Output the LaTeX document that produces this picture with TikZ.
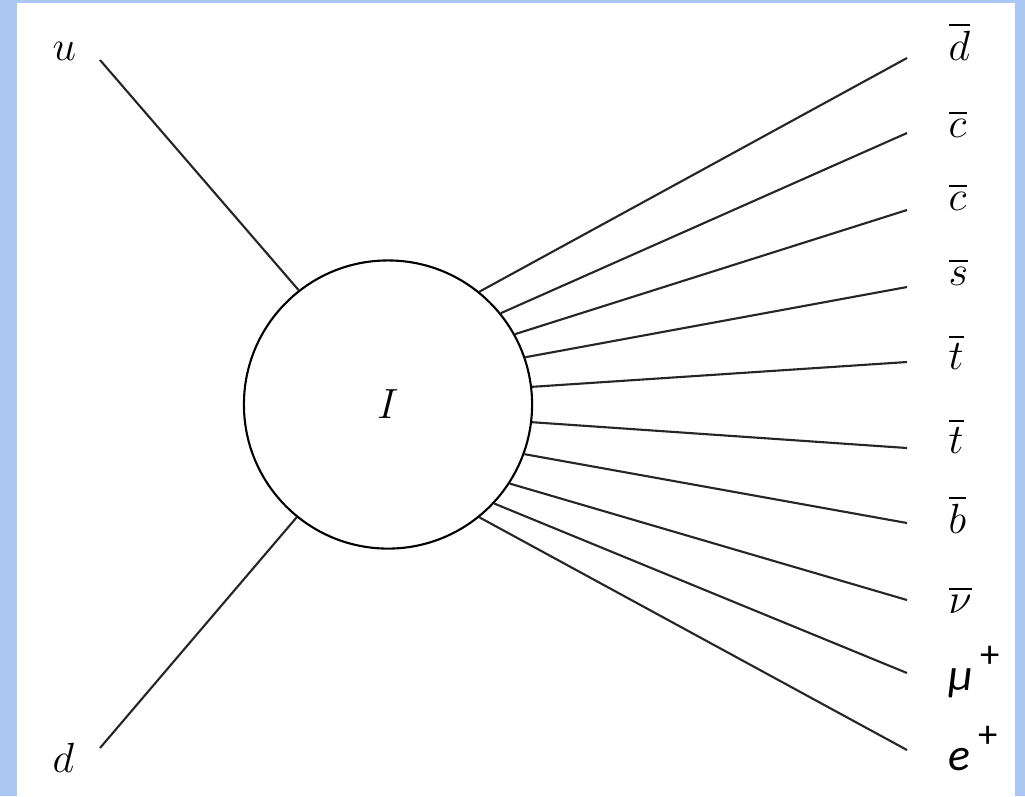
\documentclass[tikz,border=0pt]{standalone}
\usepackage{amsmath}
\usepackage{fontspec}
\usepackage{tikz}
\usetikzlibrary{positioning}
\newfontfamily\calibrifont{Carlito}[ItalicFont={Carlito Italic}]
\newcommand{\plussup}{\raisebox{0.5em}{\upshape\fontsize{11}{12}\selectfont +}}
\definecolor{frameblue}{RGB}{171,200,245}

\begin{document}
\begin{tikzpicture}[
    x=0.01cm, y=-0.01cm,
    blob/.style={draw, circle, line width=0.6pt, minimum size=2.88cm, inner sep=0pt, font=\large},
    leg/.style={line width=0.6pt, black!85},
    lab/.style={anchor=base west, inner sep=0pt, font=\large},
]
    % frame
    \fill[frameblue] (0,0) rectangle (1025,796);
    \fill[white] (17,3) rectangle (1015,796);
    \useasboundingbox (0,0) rectangle (1025,796);

    \node[blob] (I) at (388,404.5) {$I$};

    \node[lab] (u) at (52,60) {$u$};
    \node[lab] (d) at (52,772) {$d$};
    \coordinate (uend) at (100,60);
    \coordinate (dend) at (100,748);
    \draw[leg] (uend) -- (I.128.5);
    \draw[leg] (dend) -- (I.231.5);

    % outgoing legs
    \foreach \ang/\yend/\ybase/\txt [count=\i] in {
        51.8/58/60/{$\overline{d}$},
        39.4/133/137/{$\overline{c}$},
        29.3/210/210/{$\overline{c}$},
        19.9/287/285/{$\overline{s}$},
        7.3/362/369/{$\overline{t}$},
        -7.5/448/453/{$\overline{t}$},
        -20.6/523/533/{$\overline{b}$},
        -33/600/613/{$\overline{\nu}$},
        -43/673/690/{{\calibrifont\fontsize{13}{15}\selectfont\itshape μ\,\plussup}},
        -51.5/750/770/{{\calibrifont\fontsize{13}{15}\selectfont\itshape e\,\plussup}}%
        }{
        \node[lab] (out\i) at (948,\ybase) {\txt};
        \coordinate (end\i) at (907,\yend);
        \draw[leg] (I.\ang) -- (end\i);
    }
\end{tikzpicture}
\end{document}
